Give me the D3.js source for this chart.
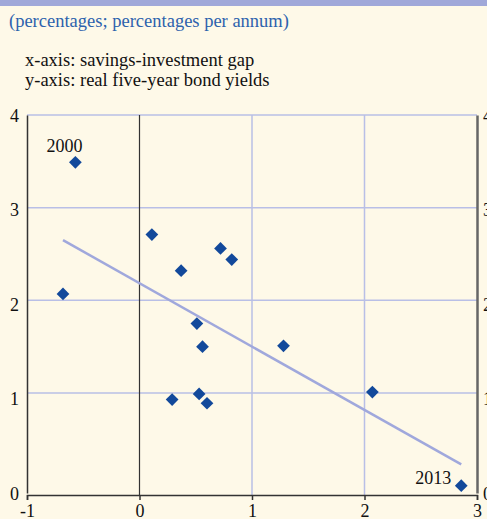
<!DOCTYPE html>
<html>
<head>
  <meta charset="utf-8">
  <script src="https://d3js.org/d3.v7.min.js"></script>
  <style>
    body { margin: 0; background: #fef9e8; }
    svg { display: block; font-family: "Liberation Serif", "DejaVu Serif", serif; }
  </style>
</head>
<body>
  <script type="text/javascript">
    // Data (years 2000 to 2013)
    var years = [2000, 2001, 2002, 2003, 2004, 2005, 2006, 2007, 2008, 2009, 2010, 2011, 2012, 2013];
    var gap = [-0.57, 0.11, -0.68, 0.37, 0.72, 0.82, 0.51, 0.56, 1.28, 0.29, 0.53, 0.60, 2.07, 2.86];
    var yields = [3.49, 2.71, 2.07, 2.32, 2.56, 2.44, 1.75, 1.50, 1.51, 0.93, 0.99, 0.89, 1.01, 0.0];
    var labelled = [2000, 2013];
    // Fitted line end points
    var trendX = [-0.68, 2.86];
    var trendY = [2.65, 0.23];
    var xTicks = [-1, 0, 1, 2, 3];
    var yTicks = [0, 1, 2, 3, 4];

    var width = 487, height = 519;
    var plotLeft = 27, plotRight = 477, plotTop = 115, plotBottom = 495;

    var svg = d3.select("body").append("svg")
      .attr("width", width)
      .attr("height", height);

    svg.append("rect")
      .attr("width", width).attr("height", height)
      .attr("fill", "#fef9e8");

    // Top band
    svg.append("rect")
      .attr("width", width).attr("height", 6)
      .attr("fill", "#a0a8d9");

    // Header text
    svg.append("text")
      .attr("x", 9).attr("y", 27)
      .attr("fill", "#2d62ad")
      .style("font-size", "18.5px")
      .text("(percentages; percentages per annum)");

    svg.selectAll("text.note")
      .data(["x-axis: savings-investment gap", "y-axis: real five-year bond yields"])
      .enter()
      .append("text")
      .attr("class", "note")
      .attr("x", 25)
      .attr("y", function(d, i) { return 66 + i * 20; })
      .attr("fill", "#111")
      .style("font-size", "18.5px")
      .text(function(d) { return d; });

    var x = d3.scaleLinear().domain([-1, 3]).range([plotLeft, plotRight]);
    var y = d3.scaleLinear().domain([-0.1, 4]).range([plotBottom, plotTop]);
    // the printed y labels are spread a little wider than the gridlines
    var yLab = d3.scaleLinear().domain([0, 4]).range([493, 115]);

    // Gridlines
    svg.selectAll("line.hgrid")
      .data(yTicks.filter(function(d) { return d > 0; }))
      .enter()
      .append("line")
      .attr("x1", plotLeft).attr("x2", plotRight)
      .attr("y1", function(d) { return y(d); })
      .attr("y2", function(d) { return y(d); })
      .attr("stroke", "#b9bfe6")
      .attr("stroke-width", 1.5);

    svg.selectAll("line.vgrid")
      .data(xTicks.filter(function(d) { return d > -1 && d < 3; }))
      .enter()
      .append("line")
      .attr("x1", function(d) { return x(d); })
      .attr("x2", function(d) { return x(d); })
      .attr("y1", plotTop).attr("y2", plotBottom)
      .attr("stroke", function(d) { return d === 0 ? "#333" : "#b9bfe6"; })
      .attr("stroke-width", function(d) { return d === 0 ? 1.2 : 1.5; });

    // Axes
    var xAxis = svg.append("g")
      .attr("transform", "translate(0," + plotBottom + ")")
      .call(d3.axisBottom(x).tickValues(xTicks).tickSize(5).tickPadding(4).tickFormat(d3.format("d")));
    xAxis.select(".domain").attr("stroke", "#333").attr("stroke-width", 1.5);
    xAxis.selectAll(".tick line").attr("stroke", "#333").attr("stroke-width", 1.5);
    xAxis.selectAll("text")
      .attr("fill", "#111")
      .style("font-size", "18px")
      .style("font-family", "Liberation Serif, serif")
      .text(function(d) { return d < 0 ? "-" + Math.abs(d) : d; });

    var yAxis = svg.append("g")
      .attr("transform", "translate(" + plotLeft + ",0)")
      .call(d3.axisLeft(yLab).tickValues(yTicks).tickSize(0).tickPadding(8).tickFormat(d3.format("d")));
    yAxis.select(".domain").attr("stroke", "#333").attr("stroke-width", 1.5);
    yAxis.selectAll("text")
      .attr("fill", "#111")
      .attr("dy", "0.35em")
      .style("font-size", "18px")
      .style("font-family", "Liberation Serif, serif");

    var yAxisR = svg.append("g")
      .attr("transform", "translate(" + plotRight + ",0)")
      .call(d3.axisRight(yLab).tickValues(yTicks).tickSize(0).tickPadding(6).tickFormat(d3.format("d")));
    yAxisR.select(".domain").attr("stroke", "#666").attr("stroke-width", 2.5);
    yAxisR.selectAll("text")
      .attr("fill", "#111")
      .attr("dy", "0.35em")
      .style("font-size", "18px")
      .style("font-family", "Liberation Serif, serif");

    // Trend line
    svg.append("line")
      .attr("x1", x(trendX[0])).attr("y1", y(trendY[0]))
      .attr("x2", x(trendX[1])).attr("y2", y(trendY[1]))
      .attr("stroke", "#a0a8dc")
      .attr("stroke-width", 2.5);

    // Points
    var points = years.map(function(yr, i) {
      return { year: yr, gap: gap[i], yld: yields[i] };
    });

    svg.selectAll("rect.pt")
      .data(points)
      .enter()
      .append("rect")
      .attr("class", "pt")
      .attr("x", -4.5).attr("y", -4.5)
      .attr("width", 9).attr("height", 9)
      .attr("transform", function(d) {
        return "translate(" + x(d.gap) + "," + y(d.yld) + ") rotate(45)";
      })
      .attr("fill", "#12499b");

    // Year labels
    svg.selectAll("text.yr")
      .data(points.filter(function(d) { return labelled.indexOf(d.year) >= 0; }))
      .enter()
      .append("text")
      .attr("class", "yr")
      .attr("x", function(d) { return d.year === 2000 ? x(d.gap) - 11 : x(d.gap) - 10; })
      .attr("y", function(d) { return d.year === 2000 ? y(d.yld) - 10 : y(d.yld) - 2; })
      .attr("text-anchor", function(d) { return d.year === 2000 ? "middle" : "end"; })
      .attr("fill", "#111")
      .style("font-size", "18px")
      .text(function(d) { return d.year; });
  </script>
</body>
</html>
